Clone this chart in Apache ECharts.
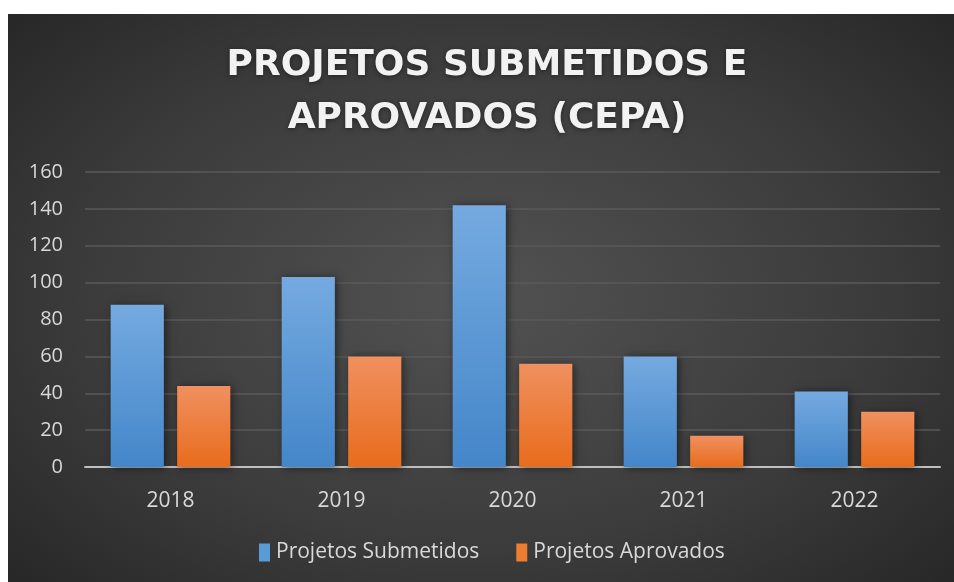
<!DOCTYPE html>
<html><head><meta charset="utf-8">
<script src="https://cdn.jsdelivr.net/npm/echarts@6/dist/echarts.min.js"></script>
<style>
html,body{margin:0;padding:0;background:#fff;width:954px;height:582px;overflow:hidden}
#c{position:absolute;left:8px;top:14px;width:946px;height:568px;
background:radial-gradient(ellipse 70% 75% at 50% 50%, #525252 0%, #3b3b3b 60%, #262626 100%);}
</style></head>
<body><div id="c"></div>
<script>
const categories = ['2018','2019','2020','2021','2022'];
const submetidos = [88,103,142,60,41];
const aprovados = [44,60,56,17,30];
const yTicks = {min:0,max:160,interval:20};
const titleText = 'PROJETOS SUBMETIDOS E\nAPROVADOS (CEPA)';

const chart = echarts.init(document.getElementById('c'), null, {renderer:'canvas'});
const lg = (a,b)=>new echarts.graphic.LinearGradient(0,0,0,1,[{offset:0,color:a},{offset:1,color:b}]);
chart.setOption({
  backgroundColor:'transparent',
  animation:false,
  graphic:[{type:'text',x:479,y:25,z:10,
    style:{text:titleText,fill:'#f2f2f2',font:'bold 36px "DejaVu Sans"',lineHeight:53,
      align:'center',verticalAlign:'top',
      textShadowColor:'rgba(0,0,0,0.45)',textShadowBlur:5,textShadowOffsetY:1}}],
  legend:{bottom:14,left:246,itemWidth:11,itemHeight:18,itemGap:37,
    textStyle:{color:'#d9d9d9',fontFamily:'Open Sans',fontSize:21,padding:[0,0,0,1]},
    data:[{name:'Projetos Submetidos',icon:'rect',itemStyle:{color:'#5b9bd5'}},{name:'Projetos Aprovados',icon:'rect',itemStyle:{color:'#ed7d31'}}]},
  grid:{left:77,right:14,top:158,bottom:115,containLabel:false},
  xAxis:{type:'category',data:categories,
    axisLine:{lineStyle:{color:'#bfbfbf',width:2}},axisTick:{show:false},
    axisLabel:{color:'#d9d9d9',fontFamily:'Open Sans',fontSize:21,margin:24}},
  yAxis:{type:'value',min:yTicks.min,max:yTicks.max,interval:yTicks.interval,
    axisLine:{show:false},axisTick:{show:false},
    splitLine:{lineStyle:{color:'#5a5a5a',width:1.5}},
    axisLabel:{color:'#d9d9d9',fontFamily:'Open Sans',fontSize:20,margin:22}},
  series:[
    {name:'Projetos Submetidos',type:'bar',data:submetidos,barGap:'25%',barCategoryGap:'30%',
     itemStyle:{color:lg('#75aae0','#4486c9'),shadowColor:'rgba(0,0,0,0.5)',shadowBlur:8,shadowOffsetX:2,shadowOffsetY:1}},
    {name:'Projetos Aprovados',type:'bar',data:aprovados,
     itemStyle:{color:lg('#f09060','#e86c1c'),shadowColor:'rgba(0,0,0,0.5)',shadowBlur:8,shadowOffsetX:2,shadowOffsetY:1}}
  ]
});
</script></body></html>
